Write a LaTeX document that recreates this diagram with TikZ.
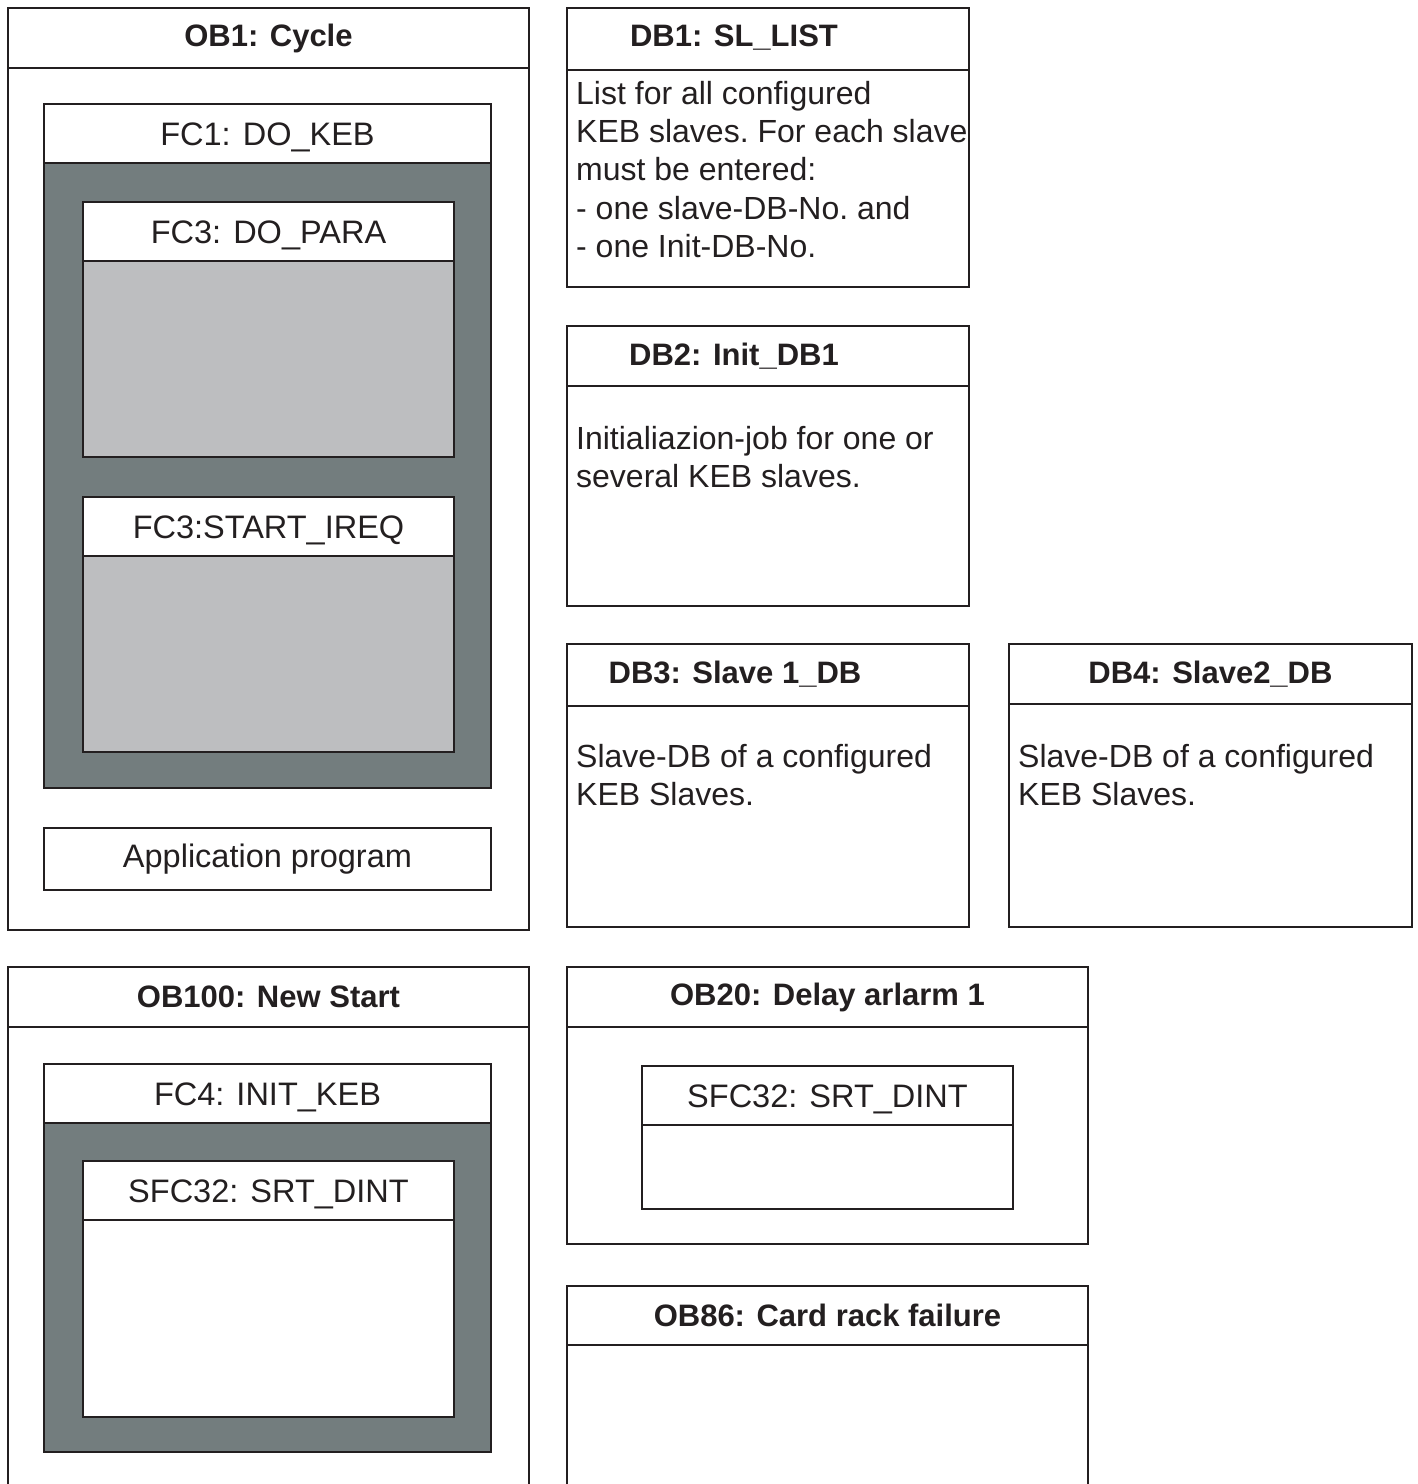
\documentclass[tikz,border=0pt]{standalone}
\usepackage{fontspec}
\setmainfont{Liberation Sans}
\definecolor{FCdark}{RGB}{115,125,126}
\definecolor{FClight}{RGB}{189,190,192}
\definecolor{Line}{RGB}{35,31,32}

\begin{document}
\begin{tikzpicture}[x=1pt,y=-1pt,
    box/.style={draw=Line, line width=2pt, outer sep=0pt, inner sep=0pt, anchor=north west},
    head/.style={font=\fontsize{31}{38}\selectfont\bfseries, text=Line},
    blk/.style={font=\fontsize{32.5}{38}\selectfont, text=Line, text height=31pt, text depth=7pt},
    note/.style={font=\fontsize{32}{38.25}\selectfont\frenchspacing, text=Line, align=left, anchor=north west, inner sep=0pt}]
  \useasboundingbox (0,0) rectangle (1418,1484);
  \clip (0,0) rectangle (1418,1484);

  % OB1 with the cyclic blocks
  \node[box, minimum width=521, minimum height=922] (ob1) at (8,8) {};
  \node[box, head, minimum width=521, minimum height=60] (ob1h) at (ob1.north west) {OB1: Cycle};
  \node[box, blk, fill=white, minimum width=447, minimum height=59] (fc1) at (44,104) {FC1: DO\_KEB};
  \node[box, fill=FCdark, minimum width=447, minimum height=625] (fc1b) at (fc1.south west) {};
  \node[box, blk, fill=white, minimum width=371, minimum height=59] (para) at (83,202) {FC3: DO\_PARA};
  \node[box, fill=FClight, minimum width=371, minimum height=196] (parab) at (para.south west) {};
  \node[box, blk, fill=white, minimum width=371, minimum height=59] (ireq) at (83,497) {FC3:START\_IREQ};
  \node[box, fill=FClight, minimum width=371, minimum height=196] (ireqb) at (ireq.south west) {};
  \node[box, blk, text height=24pt, minimum width=447, minimum height=62] (app) at (44,828) {Application program};

  % data blocks
  \node[box, minimum width=402, minimum height=279] (db1) at (567,8) {};
  \node[box, minimum width=402, minimum height=62] (db1h) at (db1.north west) {};
  \node[head] (db1t) at (734,38) {DB1: SL\_LIST};
  \node[note] (db1n) at (576,81) {List for all configured\\KEB slaves. For each slave\\must be entered:\\- one slave-DB-No. and\\- one Init-DB-No.};

  \node[box, minimum width=402, minimum height=280] (db2) at (567,326) {};
  \node[box, minimum width=402, minimum height=60] (db2h) at (db2.north west) {};
  \node[head] (db2t) at (734,356) {DB2: Init\_DB1};
  \node[note] (db2n) at (576,426) {Initialiazion-job for one or\\several KEB slaves.};

  \node[box, minimum width=402, minimum height=283] (db3) at (567,644) {};
  \node[box, minimum width=402, minimum height=62] (db3h) at (db3.north west) {};
  \node[head] (db3t) at (735,674) {DB3: Slave 1\_DB};
  \node[note] (db3n) at (576,744) {Slave-DB of a configured\\KEB Slaves.};

  \node[box, minimum width=403, minimum height=283] (db4) at (1009,644) {};
  \node[box, head, minimum width=403, minimum height=60] (db4h) at (db4.north west) {DB4: Slave2\_DB};
  \node[note] (db4n) at (1018,744) {Slave-DB of a configured\\KEB Slaves.};

  % OB100 with the start-up blocks
  \node[box, minimum width=521, minimum height=540] (ob100) at (8,967) {};
  \node[box, head, minimum width=521, minimum height=60] (ob100h) at (ob100.north west) {OB100: New Start};
  \node[box, blk, fill=white, minimum width=447, minimum height=59] (fc4) at (44,1064) {FC4: INIT\_KEB};
  \node[box, fill=FCdark, minimum width=447, minimum height=329] (fc4b) at (fc4.south west) {};
  \node[box, blk, fill=white, minimum width=371, minimum height=59] (srt) at (83,1161) {SFC32: SRT\_DINT};
  \node[box, fill=white, minimum width=371, minimum height=197] (srtb) at (srt.south west) {};

  % interrupt OBs
  \node[box, minimum width=521, minimum height=277] (ob20) at (567,967) {};
  \node[box, head, minimum width=521, minimum height=60] (ob20h) at (ob20.north west) {OB20: Delay arlarm 1};
  \node[box, blk, minimum width=371, minimum height=59] (dint) at (642,1066) {SFC32: SRT\_DINT};
  \node[box, minimum width=371, minimum height=84] (dintb) at (dint.south west) {};

  \node[box, minimum width=521, minimum height=230] (ob86) at (567,1286) {};
  \node[box, head, minimum width=521, minimum height=59] (ob86h) at (ob86.north west) {OB86: Card rack failure};
\end{tikzpicture}
\end{document}
